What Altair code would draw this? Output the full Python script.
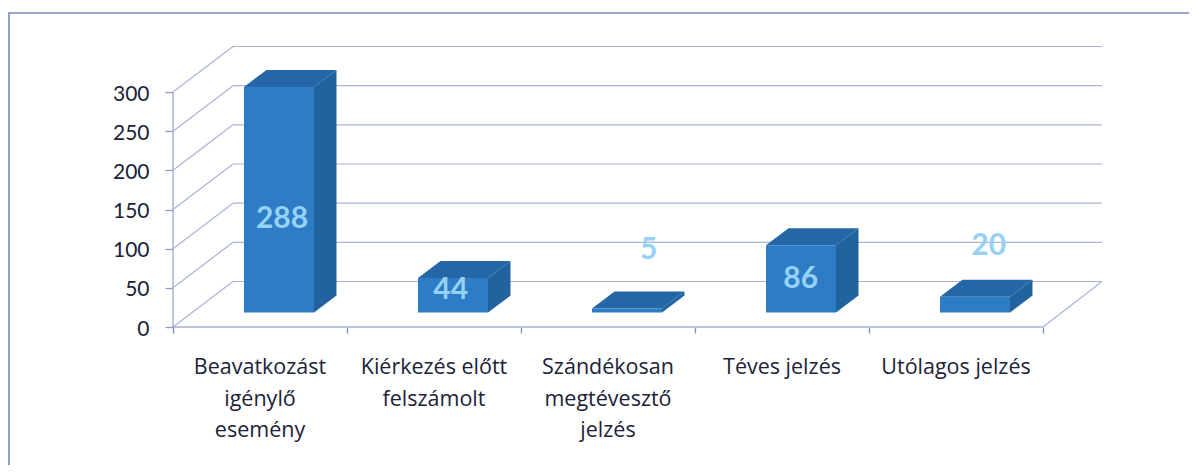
import altair as alt
import pandas as pd

# ---- data ----
categories = [
    "Beavatkozást\nigénylő\nesemény",
    "Kiérkezés előtt\nfelszámolt",
    "Szándékosan\nmegtévesztő\njelzés",
    "Téves jelzés",
    "Utólagos jelzés",
]
values = [288, 44, 5, 86, 20]
y_ticks = [0, 50, 100, 150, 200, 250, 300]
slots = [0, 1, 2, 3, 4, 5]

# ---- chart geometry (data units of the two scales) ----
PX_PER_UNIT = 235 / 300
PX_PER_SLOT = 174
W, H = 929, 281
X_MAX = W / PX_PER_SLOT
Y_MAX = H / PX_PER_UNIT
WALL_DX, WALL_DY = 60 / PX_PER_SLOT, 45.5 / PX_PER_UNIT
BAR_LEFT, BAR_W = 71 / PX_PER_SLOT, 70 / PX_PER_SLOT
BAR_DX, BAR_DY = 22.5 / PX_PER_SLOT, 17 / PX_PER_UNIT
BASE = 14.5 / PX_PER_UNIT
LABEL_DX = [109 / 174, 103.7 / 174, 127.7 / 174, 105.7 / 174, 119.7 / 174]
LABEL_Y = [138, 47, 98, 61, 104]

FRONT, SIDE, TOP = "#2d7dc6", "#21639f", "#2466a6"
GRID = "#aab4d6"
LABEL = "#96d2f5"
TEXT = "#1c2238"
FONT = "Lato"

xs = alt.Scale(domain=[0, X_MAX], nice=False, zero=False)
ys = alt.Scale(domain=[0, Y_MAX], nice=False, zero=False)
x_axis = alt.Axis(
    values=slots, domain=False, grid=False, labels=False, tickSize=6,
    tickColor="#7f8db8", tickWidth=1.3, title=None,
)
y_axis = alt.Axis(
    values=y_ticks, domain=False, grid=False, tickSize=8, tickColor="#8f9bc4",
    tickWidth=1.3, labelFont=FONT, labelFontSize=21, labelColor=TEXT,
    labelPadding=16, labelOffset=2, labelOverlap=False, labelFlush=False, title=None,
)
X = lambda f="x": alt.X(f"{f}:Q", scale=xs, axis=x_axis)
Y = lambda f="y": alt.Y(f"{f}:Q", scale=ys, axis=y_axis)

# back wall grid lines and the side-wall diagonals
wall = pd.DataFrame(
    [{"x": WALL_DX, "x2": X_MAX, "y": t + WALL_DY} for t in y_ticks]
)
wall_rules = alt.Chart(wall).mark_rule(color=GRID, strokeWidth=1.2).encode(
    x=X(), x2="x2:Q", y=Y()
)
diag_rows = []
for t in y_ticks:
    diag_rows += [
        {"k": f"t{t}", "x": 0, "y": t},
        {"k": f"t{t}", "x": WALL_DX, "y": t + WALL_DY},
    ]
diag_rows += [
    {"k": "floor", "x": 5, "y": 0},
    {"k": "floor", "x": X_MAX, "y": WALL_DY},
]
diags = alt.Chart(pd.DataFrame(diag_rows)).mark_line(color=GRID, strokeWidth=1.2).encode(
    x=X(), y=Y(), detail="k:N"
)

# axis lines
y_line = alt.Chart(pd.DataFrame({"x": [0], "y": [0], "y2": [300]})).mark_rule(
    color="#a4afd2", strokeWidth=1.4
).encode(x=X(), y=Y(), y2="y2:Q")
x_line = alt.Chart(pd.DataFrame({"x": [0], "x2": [5], "y": [0]})).mark_rule(
    color="#a4afd2", strokeWidth=1.6
).encode(x=X(), x2="x2:Q", y=Y())

# 3-D bars: faces built per bar so that the scales position every face
fronts, sides, tops = [], [], []
for i, v in enumerate(values):
    l, r = i + BAR_LEFT, i + BAR_LEFT + BAR_W
    b, t = BASE, BASE + v
    fronts.append({"x": l, "x2": r, "y": b, "y2": t})
    sides += [
        {"k": i, "x": r, "y": b, "y2": t},
        {"k": i, "x": r + BAR_DX, "y": b + BAR_DY, "y2": t + BAR_DY},
    ]
    tops += [
        {"k": i, "x": l, "y": t, "y2": t},
        {"k": i, "x": l + BAR_DX, "y": t, "y2": t + BAR_DY},
        {"k": i, "x": r, "y": t, "y2": t + BAR_DY},
        {"k": i, "x": r + BAR_DX, "y": t + BAR_DY, "y2": t + BAR_DY},
    ]
front_m = alt.Chart(pd.DataFrame(fronts)).mark_rect(color=FRONT).encode(
    x=X(), x2="x2:Q", y=Y(), y2="y2:Q"
)
side_m = alt.Chart(pd.DataFrame(sides)).mark_area(color=SIDE, opacity=1).encode(
    x=X(), y=Y(), y2="y2:Q", detail="k:N"
)
top_m = alt.Chart(pd.DataFrame(tops)).mark_area(color=TOP, opacity=1).encode(
    x=X(), y=Y(), y2="y2:Q", detail="k:N"
)

# data labels
lab_df = pd.DataFrame(
    {"x": [i + d for i, d in enumerate(LABEL_DX)], "y": LABEL_Y, "v": values}
)
labels = alt.Chart(lab_df).mark_text(
    font=FONT, fontSize=30, fontWeight="bold", color=LABEL, baseline="middle", align="center"
).encode(x=X(), y=Y(), text="v:Q")

# category labels
cat_df = pd.DataFrame({"x": [i + 0.5 for i in range(5)], "t": categories})
cats = alt.Chart(cat_df).mark_text(
    font="Open Sans", fontSize=21.5, color=TEXT, align="center", baseline="alphabetic",
    lineBreak="\n", lineHeight=31.7,
).encode(x=X(), y=alt.value(H + 47), text="t:N")

# outer frame: only its left and top edges are in the picture
frame_left = alt.Chart(pd.DataFrame({"a": [0]})).mark_rule(
    color="#8ea0c4", strokeWidth=2
).encode(x=alt.value(-164), y=alt.value(-33), y2=alt.value(H + 138))
frame_top = alt.Chart(pd.DataFrame({"a": [0]})).mark_rule(
    color="#9aa4c8", strokeWidth=2
).encode(x=alt.value(-165), x2=alt.value(W + 87), y=alt.value(-33))

chart = alt.layer(
    frame_left, frame_top, wall_rules, diags, y_line, x_line, side_m, top_m, front_m, labels, cats
).properties(
    width=W,
    height=H,
    padding={"left": 165, "top": 38, "right": 87, "bottom": 138},
    autosize=alt.AutoSizeParams(type="none"),
    background="white",
).configure_view(stroke=None)

chart.save("out.html", embed_options={"renderer": "svg", "actions": False})
